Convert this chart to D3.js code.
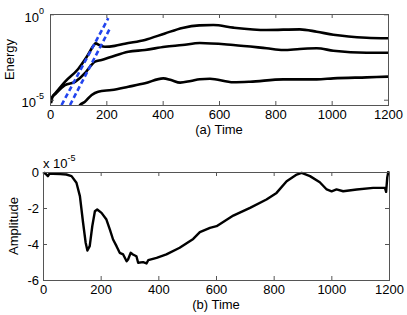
<!DOCTYPE html>
<html>
<head>
<meta charset="utf-8">
<script src="https://cdn.jsdelivr.net/npm/d3@7"></script>
<style>
body{margin:0;background:#fff}
svg{display:block;font-family:"Liberation Sans",Arial,sans-serif}
.ax path.domain{display:none}
.ax line{stroke:#555}
.ax text{font-size:13px;fill:#000}
.lbl{font-size:13px;fill:#000}
</style>
</head>
<body>
<svg id="chart" width="407" height="315"></svg>
<script>
// panel (a) : energy, stored as log10(E)
var upperT    = [3, 8, 20, 53, 100, 130, 154, 162, 175, 195, 230, 266, 337, 408, 470, 530, 580, 651, 769, 887, 947, 1006, 1060, 1124, 1200];
var upperLogE = [-5.2, -4.85, -4.6, -3.95, -3.2, -2.5, -1.85, -1.7, -1.8, -1.9, -1.85, -1.72, -1.5, -1.12, -0.8, -0.65, -0.63, -0.78, -0.92, -0.88, -1.02, -1.2, -1.3, -1.37, -1.4];

var middleT    = [3, 8, 20, 53, 89, 124, 142, 160, 183, 219, 278, 337, 408, 470, 532, 651, 769, 828, 887, 947, 1006, 1124, 1200];
var middleLogE = [-5.2, -4.85, -4.65, -4.15, -3.95, -3.45, -3.07, -2.77, -2.68, -2.48, -2.19, -2.09, -1.9, -1.8, -1.68, -1.8, -1.99, -2.09, -2.03, -1.99, -2.13, -2.25, -2.25];

var lowerT    = [98, 107, 124, 148, 171, 219, 278, 337, 402, 430, 462, 500, 532, 568, 651, 710, 828, 947, 1006, 1124, 1200];
var lowerLogE = [-5.5, -5.31, -5.12, -4.72, -4.53, -4.43, -4.24, -4.04, -3.75, -3.85, -4.0, -3.9, -3.8, -3.77, -3.98, -3.95, -3.81, -3.81, -3.75, -3.69, -3.65];

// growth-rate fits (blue dashed), end points only
var fit1T = [41, 207],  fit1LogE = [-5.31, -0.23];
var fit2T = [71, 213],  fit2LogE = [-5.31, -0.82];

// panel (b) : amplitude in units of 1e-5
var ampT = [0, 6, 12, 17, 22, 35, 60, 81, 99, 116, 128, 139, 148, 154, 162, 171, 180, 188, 203, 220, 232, 243, 255, 266, 278, 290, 295, 304, 312, 324, 330, 347, 359, 365, 394, 428, 474, 521, 544, 579, 602, 660, 718, 775, 810, 845, 880, 897, 926, 960, 984, 1001, 1018, 1041, 1088, 1145, 1186, 1190, 1194, 1198];
var ampV = [-0.1, -0.05, -0.15, -0.23, -0.1, -0.1, -0.12, -0.14, -0.23, -0.6, -1.34, -2.82, -3.93, -4.36, -4.12, -3.0, -2.18, -2.08, -2.27, -2.64, -3.2, -3.75, -4.12, -4.49, -4.58, -4.96, -4.86, -4.49, -4.58, -4.68, -5.04, -5.01, -5.08, -4.9, -4.77, -4.58, -4.21, -3.72, -3.34, -3.1, -3.01, -2.42, -1.99, -1.53, -1.16, -0.51, -0.14, -0.05, -0.23, -0.57, -0.97, -1.07, -0.97, -1.07, -0.97, -0.88, -0.88, -1.1, -0.3, 0.05];

var xTicks = [0, 200, 400, 600, 800, 1000, 1200];
var ampTicks = [0, -2, -4, -6];
var energyTicks = [1e-5, 1];

var svg = d3.select("#chart");

function zip(a, b){ return a.map(function(v, i){ return [v, b[i]]; }); }

function drawFrame(x, y, left, top, w, h, xPad, yTickVals, yFmt){
	var g = svg.append("g").attr("class", "ax");
	g.append("g").attr("transform", "translate(0," + (top + h) + ")")
		.call(d3.axisBottom(x).tickValues(xTicks).tickSizeInner(-4).tickSizeOuter(0).tickPadding(xPad).tickFormat(d3.format("d")));
	g.append("g").attr("transform", "translate(0," + top + ")")
		.call(d3.axisTop(x).tickValues(xTicks).tickSizeInner(-4).tickSizeOuter(0).tickFormat(""));
	var gy = g.append("g").attr("transform", "translate(" + left + ",0)")
		.call(d3.axisLeft(y).tickValues(yTickVals).tickSizeInner(-4).tickSizeOuter(0).tickPadding(4).tickFormat(yFmt));
	g.append("g").attr("transform", "translate(" + (left + w) + ",0)")
		.call(d3.axisRight(y).tickValues(yTickVals).tickSizeInner(-4).tickSizeOuter(0).tickFormat(""));
	svg.append("rect").attr("x", left + 0.5).attr("y", top + 0.5).attr("width", w).attr("height", h)
		.attr("fill", "none").attr("stroke", "#555").attr("stroke-width", 1);
	return gy;
}

// ---------- panel (a)
var aL = 50, aT = 14, aW = 338, aH = 91;
var xa = d3.scaleLinear().domain([0, 1200]).range([aL, aL + aW]);
var ya = d3.scaleLog().domain([Math.pow(10, -5.31), 1]).range([aT + aH, aT + 0.3]);

svg.append("clipPath").attr("id", "clipA").append("rect")
	.attr("x", aL).attr("y", aT).attr("width", aW).attr("height", aH);

var lineA = d3.line()
	.x(function(d){ return xa(d[0]); })
	.y(function(d){ return ya(Math.pow(10, d[1])); })
	.curve(d3.curveMonotoneX);

var gA = svg.append("g").attr("clip-path", "url(#clipA)");
[zip(upperT, upperLogE), zip(middleT, middleLogE), zip(lowerT, lowerLogE)].forEach(function(s){
	gA.append("path").attr("d", lineA(s)).attr("fill", "none")
		.attr("stroke", "#000").attr("stroke-width", 2.6).attr("stroke-linejoin", "round");
});
[zip(fit1T, fit1LogE), zip(fit2T, fit2LogE)].forEach(function(s){
	gA.append("path").attr("d", d3.line().x(function(d){ return xa(d[0]); }).y(function(d){ return ya(Math.pow(10, d[1])); })(s))
		.attr("fill", "none").attr("stroke", "#2244ee").attr("stroke-width", 2.6).attr("stroke-dasharray", "5,3");
});

var gyA = drawFrame(xa, ya, aL, aT, aW, aH, 5, energyTicks, function(){ return ""; });
gyA.selectAll(".tick text").each(function(d){
	var t = d3.select(this).attr("dy", "0.55em").attr("x", -6).text("10");
	t.append("tspan").attr("dy", -8).attr("font-size", 9).text(d === 1 ? "0" : "-5");
});

svg.append("text").attr("class", "lbl").attr("x", aL + aW / 2).attr("y", 134)
	.attr("text-anchor", "middle").text("(a) Time");
svg.append("text").attr("class", "lbl").attr("transform", "translate(14," + (aT + aH / 2) + ") rotate(-90)")
	.attr("text-anchor", "middle").text("Energy");

// ---------- panel (b)
var bL = 43, bT = 172, bW = 346, bH = 108;
var xb = d3.scaleLinear().domain([0, 1200]).range([bL, bL + bW]);
var yb = d3.scaleLinear().domain([-6, 0]).range([bT + bH, bT]);

var lineB = d3.line()
	.x(function(d){ return xb(d[0]); })
	.y(function(d){ return yb(d[1]); });

svg.append("path").attr("d", lineB(zip(ampT, ampV))).attr("fill", "none")
	.attr("stroke", "#000").attr("stroke-width", 2.4).attr("stroke-linejoin", "round");

drawFrame(xb, yb, bL, bT, bW, bH, 5, ampTicks, function(d){ return String(d); });

var mult = svg.append("text").attr("class", "lbl").attr("x", bL).attr("y", 168).text("x 10");
mult.append("tspan").attr("dy", -7).attr("font-size", 9).text("-5");

svg.append("text").attr("class", "lbl").attr("x", bL + bW / 2).attr("y", 309)
	.attr("text-anchor", "middle").text("(b) Time");
svg.append("text").attr("class", "lbl").attr("transform", "translate(18," + (bT + bH / 2) + ") rotate(-90)")
	.attr("text-anchor", "middle").text("Amplitude");
</script>
</body>
</html>
